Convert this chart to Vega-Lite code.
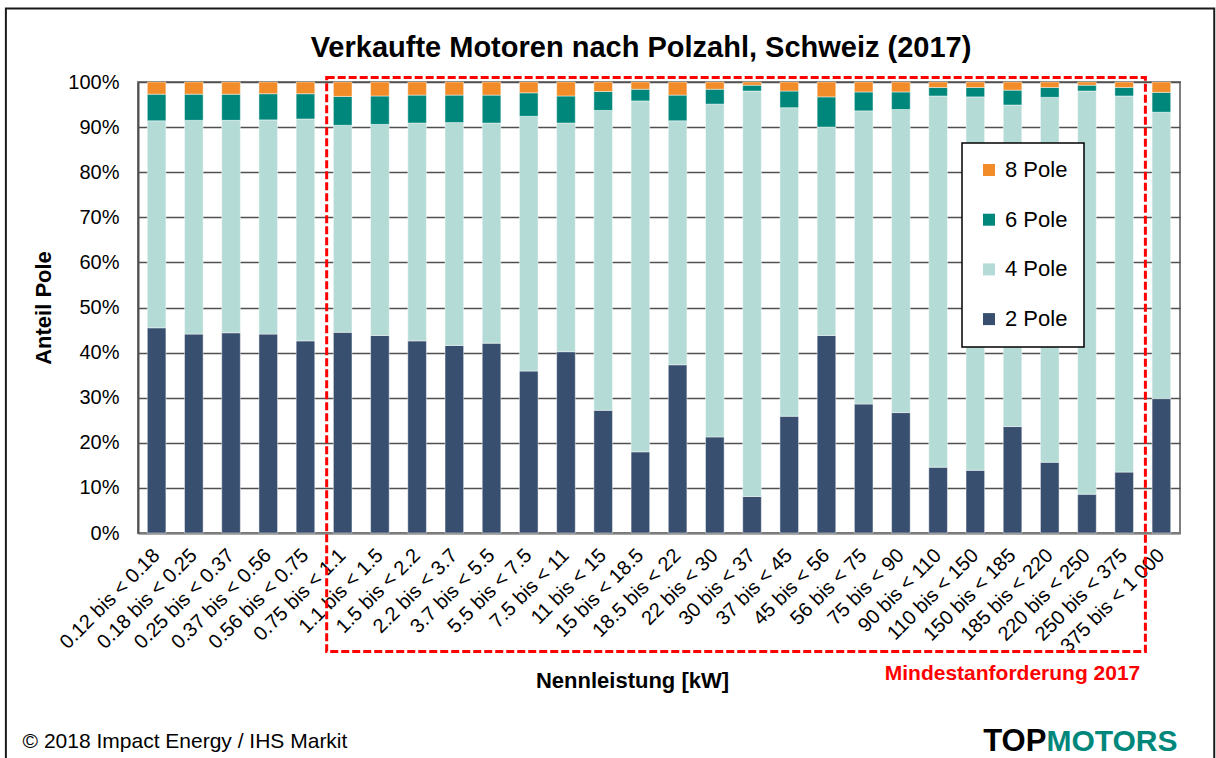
{
  "$schema": "https://vega.github.io/schema/vega-lite/v6.json",
  "width": 1042,
  "height": 451,
  "autosize": {"type": "none"},
  "padding": {"left": 138, "top": 82, "right": 36, "bottom": 225},
  "background": "white",
  "config": {
    "font": "Liberation Sans",
    "view": {"stroke": "#7f7f7f", "strokeWidth": 2},
    "axis": {"labelColor": "black", "titleColor": "black"},
    "legend": {"strokeWidth": 1.5}
  },
  "title": {
    "text": "Verkaufte Motoren nach Polzahl, Schweiz (2017)",
    "fontSize": 29,
    "fontWeight": "bold",
    "color": "black",
    "anchor": "middle",
    "dx": -18,
    "offset": -56
  },
  "layer": [
    {
      "data": {
        "values": [
          {"k": "0.12 bis < 0.18", "2 Pole": 45.5, "4 Pole": 45.9, "6 Pole": 5.9, "8 Pole": 2.7},
          {"k": "0.18 bis < 0.25", "2 Pole": 44.1, "4 Pole": 47.4, "6 Pole": 5.8, "8 Pole": 2.7},
          {"k": "0.25 bis < 0.37", "2 Pole": 44.4, "4 Pole": 47.1, "6 Pole": 5.8, "8 Pole": 2.7},
          {"k": "0.37 bis < 0.56", "2 Pole": 44.1, "4 Pole": 47.5, "6 Pole": 5.8, "8 Pole": 2.6},
          {"k": "0.56 bis < 0.75", "2 Pole": 42.6, "4 Pole": 49.2, "6 Pole": 5.6, "8 Pole": 2.6},
          {"k": "0.75 bis < 1.1", "2 Pole": 44.5, "4 Pole": 45.9, "6 Pole": 6.4, "8 Pole": 3.2},
          {"k": "1.1 bis < 1.5", "2 Pole": 43.8, "4 Pole": 46.8, "6 Pole": 6.3, "8 Pole": 3.1},
          {"k": "1.5 bis < 2.2", "2 Pole": 42.6, "4 Pole": 48.3, "6 Pole": 6.2, "8 Pole": 2.9},
          {"k": "2.2 bis < 3.7", "2 Pole": 41.6, "4 Pole": 49.4, "6 Pole": 6.1, "8 Pole": 2.9},
          {"k": "3.7 bis < 5.5", "2 Pole": 42.1, "4 Pole": 48.8, "6 Pole": 6.2, "8 Pole": 2.9},
          {"k": "5.5 bis < 7.5", "2 Pole": 35.9, "4 Pole": 56.5, "6 Pole": 5.2, "8 Pole": 2.4},
          {"k": "7.5 bis < 11", "2 Pole": 40.2, "4 Pole": 50.7, "6 Pole": 6.0, "8 Pole": 3.1},
          {"k": "11 bis < 15", "2 Pole": 27.2, "4 Pole": 66.5, "6 Pole": 4.2, "8 Pole": 2.1},
          {"k": "15 bis < 18.5", "2 Pole": 18.0, "4 Pole": 77.8, "6 Pole": 2.6, "8 Pole": 1.6},
          {"k": "18.5 bis < 22", "2 Pole": 37.3, "4 Pole": 54.1, "6 Pole": 5.7, "8 Pole": 2.9},
          {"k": "22 bis < 30", "2 Pole": 21.3, "4 Pole": 73.8, "6 Pole": 3.3, "8 Pole": 1.6},
          {"k": "30 bis < 37", "2 Pole": 8.1, "4 Pole": 89.9, "6 Pole": 1.3, "8 Pole": 0.7},
          {"k": "37 bis < 45", "2 Pole": 25.9, "4 Pole": 68.4, "6 Pole": 3.7, "8 Pole": 2.0},
          {"k": "45 bis < 56", "2 Pole": 43.8, "4 Pole": 46.2, "6 Pole": 6.7, "8 Pole": 3.3},
          {"k": "56 bis < 75", "2 Pole": 28.6, "4 Pole": 65.0, "6 Pole": 4.2, "8 Pole": 2.2},
          {"k": "75 bis < 90", "2 Pole": 26.7, "4 Pole": 67.2, "6 Pole": 3.9, "8 Pole": 2.2},
          {"k": "90 bis < 110", "2 Pole": 14.6, "4 Pole": 82.3, "6 Pole": 1.9, "8 Pole": 1.2},
          {"k": "110 bis < 150", "2 Pole": 13.9, "4 Pole": 82.8, "6 Pole": 2.1, "8 Pole": 1.2},
          {"k": "150 bis < 185", "2 Pole": 23.6, "4 Pole": 71.3, "6 Pole": 3.3, "8 Pole": 1.8},
          {"k": "185 bis < 220", "2 Pole": 15.7, "4 Pole": 80.9, "6 Pole": 2.2, "8 Pole": 1.2},
          {"k": "220 bis < 250", "2 Pole": 8.6, "4 Pole": 89.4, "6 Pole": 1.3, "8 Pole": 0.7},
          {"k": "250 bis < 375", "2 Pole": 13.5, "4 Pole": 83.4, "6 Pole": 1.9, "8 Pole": 1.2},
          {"k": "375 bis < 1 000", "2 Pole": 29.8, "4 Pole": 63.5, "6 Pole": 4.4, "8 Pole": 2.3}
        ]
      },
      "transform": [
        {"fold": ["2 Pole", "4 Pole", "6 Pole", "8 Pole"], "as": ["pole", "value"]}
      ],
      "mark": {"type": "bar", "stroke": "white", "strokeWidth": 1, "strokeOpacity": 0.45},
      "encoding": {
        "x": {
          "field": "k",
          "type": "nominal",
          "sort": null,
          "scale": {
            "domain": ["0.12 bis < 0.18", "0.18 bis < 0.25", "0.25 bis < 0.37", "0.37 bis < 0.56", "0.56 bis < 0.75", "0.75 bis < 1.1", "1.1 bis < 1.5", "1.5 bis < 2.2", "2.2 bis < 3.7", "3.7 bis < 5.5", "5.5 bis < 7.5", "7.5 bis < 11", "11 bis < 15", "15 bis < 18.5", "18.5 bis < 22", "22 bis < 30", "30 bis < 37", "37 bis < 45", "45 bis < 56", "56 bis < 75", "75 bis < 90", "90 bis < 110", "110 bis < 150", "150 bis < 185", "185 bis < 220", "220 bis < 250", "250 bis < 375", "375 bis < 1 000"],
            "paddingInner": 0.5,
            "paddingOuter": 0.25
          },
          "axis": {
            "title": "Nennleistung [kW]",
            "titleFontSize": 22,
            "titleFontWeight": "bold",
            "titleX": 494,
            "titleY": 147,
            "titleBaseline": "middle",
            "labelAngle": -45,
            "labelAlign": "right",
            "labelBaseline": "middle",
            "labelFontSize": 20,
            "labelPadding": 19,
            "labelOffset": 0,
            "ticks": false,
            "domainColor": "#7f7f7f",
            "domainWidth": 2
          }
        },
        "y": {
          "field": "value",
          "type": "quantitative",
          "stack": "zero",
          "scale": {"domain": [0, 100], "nice": false},
          "axis": {
            "title": "Anteil Pole",
            "titleFontSize": 22,
            "titleFontWeight": "bold",
            "titlePadding": 12,
            "values": [0, 10, 20, 30, 40, 50, 60, 70, 80, 90, 100],
            "labelExpr": "datum.value + '%'",
            "labelFontSize": 20,
            "labelPadding": 19,
            "ticks": false,
            "grid": true,
            "gridColor": "#505050",
            "gridWidth": 1.5,
            "domainColor": "#505050",
            "domainWidth": 2
          }
        },
        "color": {
          "field": "pole",
          "type": "nominal",
          "scale": {
            "domain": ["8 Pole", "6 Pole", "4 Pole", "2 Pole"],
            "range": ["#f28c28", "#00877b", "#b4dbd5", "#384f6f"]
          },
          "legend": {
            "title": null,
            "orient": "none",
            "legendX": 824,
            "legendY": 61,
            "strokeColor": "black",
            "fillColor": "white",
            "padding": 16,
            "symbolType": "square",
            "symbolSize": 144,
            "symbolStrokeWidth": 0,
            "labelFontSize": 22,
            "labelColor": "black",
            "labelOffset": 5,
            "rowPadding": 27.7
          }
        },
        "order": {"field": "pole", "sort": "ascending"}
      }
    },
    {
      "data": {"values": [{"k1": "0.75 bis < 1.1", "k2": "250 bis < 375", "y1": -26.3, "y2": 101.0}]},
      "mark": {"type": "rect", "fill": null, "fillOpacity": 0, "stroke": "#ff0000", "strokeWidth": 3, "strokeDash": [8, 3]},
      "encoding": {
        "x": {"field": "k1", "type": "nominal", "bandPosition": -0.36},
        "x2": {"field": "k2", "bandPosition": 1.64},
        "y": {"field": "y1", "type": "quantitative"},
        "y2": {"field": "y2"}
      }
    },
    {
      "data": {"values": [{"k1": "0.12 bis < 0.18", "k2": "375 bis < 1 000", "y1": -60, "y2": 116.3}]},
      "mark": {"type": "rect", "fill": null, "fillOpacity": 0, "stroke": "#1a1a1a", "strokeWidth": 2},
      "encoding": {
        "x": {"field": "k1", "type": "nominal", "bandPosition": -7.6},
        "x2": {"field": "k2", "bandPosition": 3.34},
        "y": {"field": "y1", "type": "quantitative"},
        "y2": {"field": "y2"}
      }
    },
    {
      "data": {"values": [{"k": "150 bis < 185", "y": -32.7, "label": "Mindestanforderung 2017"}]},
      "mark": {"type": "text", "color": "#ff0000", "fontSize": 21, "fontWeight": "bold", "align": "center", "baseline": "alphabetic"},
      "encoding": {
        "x": {"field": "k", "type": "nominal"},
        "y": {"field": "y", "type": "quantitative"},
        "text": {"field": "label"}
      }
    },
    {
      "data": {"values": [{"k": "0.12 bis < 0.18", "y": -47.6, "label": "© 2018 Impact Energy / IHS Markit"}]},
      "mark": {"type": "text", "color": "black", "fontSize": 21, "align": "left", "baseline": "alphabetic", "dx": -134},
      "encoding": {
        "x": {"field": "k", "type": "nominal"},
        "y": {"field": "y", "type": "quantitative"},
        "text": {"field": "label"}
      }
    },
    {
      "data": {"values": [{"k": "375 bis < 1 000", "y": -48.4, "label": "TOP"}]},
      "mark": {"type": "text", "color": "black", "fontSize": 31, "fontWeight": "bold", "align": "right", "baseline": "alphabetic", "dx": -115},
      "encoding": {
        "x": {"field": "k", "type": "nominal"},
        "y": {"field": "y", "type": "quantitative"},
        "text": {"field": "label"}
      }
    },
    {
      "data": {"values": [{"k": "375 bis < 1 000", "y": -48.4, "label": "MOTORS"}]},
      "mark": {"type": "text", "color": "#00877b", "fontSize": 30, "fontWeight": "bold", "align": "left", "baseline": "alphabetic", "dx": -115},
      "encoding": {
        "x": {"field": "k", "type": "nominal"},
        "y": {"field": "y", "type": "quantitative"},
        "text": {"field": "label"}
      }
    }
  ]
}
